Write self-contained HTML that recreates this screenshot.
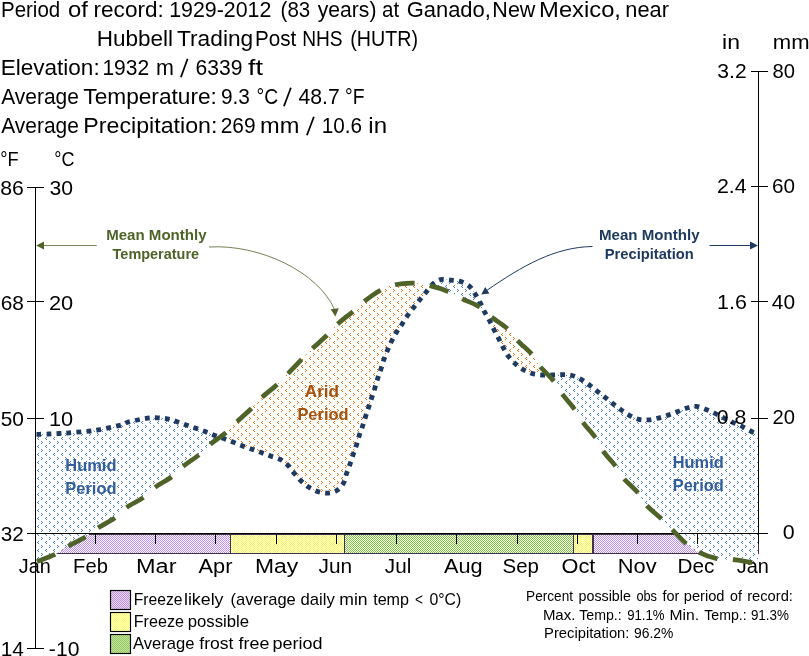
<!DOCTYPE html>
<html><head><meta charset="utf-8"><style>
html,body{margin:0;padding:0;background:#fff;width:809px;height:656px;overflow:hidden;font-family:"Liberation Sans", sans-serif;}
svg text{-webkit-font-smoothing:antialiased;}
svg{will-change:transform;}
</style></head><body>
<svg width="809" height="656" viewBox="0 0 809 656" style="position:absolute;left:0;top:0">
<defs>
<pattern id="pBlue" patternUnits="userSpaceOnUse" x="0" y="0" width="8" height="8" shape-rendering="crispEdges">
<rect width="8" height="8" fill="#fff"/>
<g fill="#4A7CC0"><rect x="1" y="1" width="1" height="1"/><rect x="2" y="2" width="1" height="1"/><rect x="1" y="3" width="1" height="1"/>
<rect x="6" y="5" width="1" height="1"/><rect x="5" y="6" width="1" height="1"/><rect x="6" y="7" width="1" height="1"/></g>
</pattern>
<pattern id="pOrange" patternUnits="userSpaceOnUse" x="0" y="0" width="8" height="8" shape-rendering="crispEdges">
<rect width="8" height="8" fill="#fff"/>
<g fill="#E46C0A"><rect x="1" y="1" width="1" height="1"/><rect x="2" y="2" width="1" height="1"/><rect x="1" y="3" width="1" height="1"/>
<rect x="6" y="5" width="1" height="1"/><rect x="5" y="6" width="1" height="1"/><rect x="6" y="7" width="1" height="1"/></g>
</pattern>
<pattern id="cPurple" patternUnits="userSpaceOnUse" x="0" y="0" width="2" height="2" shape-rendering="crispEdges">
<rect width="2" height="2" fill="#fff"/><rect x="0" y="0" width="1" height="1" fill="#BE8CFA"/><rect x="1" y="1" width="1" height="1" fill="#BE8CFA"/></pattern>
<pattern id="cYellow" patternUnits="userSpaceOnUse" x="0" y="0" width="2" height="2" shape-rendering="crispEdges">
<rect width="2" height="2" fill="#fff"/><rect x="0" y="0" width="1" height="1" fill="#FFFF3C"/><rect x="1" y="1" width="1" height="1" fill="#FFFF3C"/></pattern>
<pattern id="cGreen" patternUnits="userSpaceOnUse" x="0" y="0" width="2" height="2" shape-rendering="crispEdges">
<rect width="2" height="2" fill="#fff"/><rect x="0" y="0" width="1" height="1" fill="#7EC83A"/><rect x="1" y="1" width="1" height="1" fill="#7EC83A"/></pattern>
<pattern id="lPurple" patternUnits="userSpaceOnUse" x="0" y="0" width="2" height="2" shape-rendering="crispEdges">
<rect width="2" height="2" fill="#E6DCCB"/><rect x="0" y="0" width="1" height="1" fill="#C28CFA"/><rect x="1" y="1" width="1" height="1" fill="#C28CFA"/></pattern>
<pattern id="lYellow" patternUnits="userSpaceOnUse" x="0" y="0" width="2" height="2" shape-rendering="crispEdges">
<rect width="2" height="2" fill="#FFFFD0"/><rect x="0" y="0" width="1" height="1" fill="#FFFF60"/><rect x="1" y="1" width="1" height="1" fill="#FFFF60"/></pattern>
<pattern id="lGreen" patternUnits="userSpaceOnUse" x="0" y="0" width="2" height="2" shape-rendering="crispEdges">
<rect width="2" height="2" fill="#C8E0A8"/><rect x="0" y="0" width="1" height="1" fill="#92CC58"/><rect x="1" y="1" width="1" height="1" fill="#92CC58"/></pattern>
<clipPath id="cAboveT"><polygon points="36.00,0.00 35.00,562.20 35.04,562.19 35.01,562.22 34.94,562.26 34.87,562.31 34.86,562.33 34.93,562.32 35.12,562.26 35.49,562.13 36.07,561.92 36.90,561.60 38.04,561.17 39.46,560.65 41.12,560.04 42.96,559.37 44.91,558.64 46.92,557.87 48.94,557.08 50.89,556.28 52.73,555.48 54.40,554.70 55.91,553.92 57.33,553.13 58.69,552.31 60.00,551.48 61.29,550.64 62.58,549.78 63.88,548.92 65.22,548.05 66.62,547.18 68.10,546.30 69.67,545.42 71.32,544.53 73.03,543.62 74.78,542.72 76.55,541.80 78.31,540.88 80.05,539.96 81.74,539.04 83.36,538.12 84.90,537.20 86.33,536.29 87.67,535.38 88.93,534.47 90.15,533.56 91.35,532.65 92.55,531.74 93.77,530.81 95.03,529.89 96.37,528.95 97.80,528.00 99.34,527.04 100.98,526.08 102.69,525.11 104.45,524.14 106.22,523.16 108.00,522.17 109.75,521.17 111.45,520.16 113.08,519.13 114.60,518.10 116.01,517.04 117.32,515.96 118.57,514.85 119.76,513.74 120.92,512.61 122.08,511.49 123.25,510.38 124.46,509.29 125.74,508.23 127.10,507.20 128.55,506.21 130.08,505.27 131.66,504.35 133.28,503.45 134.92,502.56 136.56,501.67 138.19,500.77 139.78,499.85 141.32,498.90 142.80,497.90 144.20,496.85 145.54,495.77 146.84,494.65 148.10,493.50 149.35,492.35 150.59,491.20 151.85,490.05 153.12,488.93 154.44,487.85 155.80,486.80 157.22,485.81 158.69,484.86 160.19,483.95 161.72,483.06 163.26,482.18 164.79,481.29 166.32,480.40 167.82,479.47 169.28,478.51 170.70,477.50 172.06,476.44 173.38,475.33 174.65,474.19 175.91,473.02 177.15,471.84 178.39,470.66 179.65,469.47 180.92,468.29 182.24,467.13 183.60,466.00 185.02,464.89 186.50,463.80 188.01,462.72 189.56,461.64 191.11,460.57 192.65,459.51 194.18,458.44 195.67,457.37 197.12,456.29 198.50,455.20 199.80,454.10 201.04,453.00 202.22,451.89 203.37,450.78 204.50,449.67 205.63,448.55 206.78,447.44 207.96,446.32 209.20,445.21 210.50,444.10 211.89,442.99 213.34,441.89 214.85,440.78 216.40,439.68 217.96,438.58 219.52,437.47 221.07,436.36 222.57,435.25 224.02,434.13 225.40,433.00 226.70,431.87 227.93,430.74 229.11,429.61 230.25,428.48 231.37,427.34 232.49,426.19 233.62,425.04 234.77,423.87 235.96,422.69 237.20,421.50 238.50,420.29 239.86,419.05 241.24,417.80 242.65,416.54 244.07,415.28 245.49,414.00 246.90,412.74 248.28,411.48 249.61,410.23 250.90,409.00 252.12,407.79 253.28,406.59 254.39,405.40 255.48,404.21 256.56,403.03 257.63,401.85 258.73,400.67 259.86,399.49 261.05,398.30 262.30,397.10 263.63,395.89 265.04,394.66 266.51,393.42 268.01,392.18 269.53,390.94 271.04,389.71 272.54,388.48 273.99,387.27 275.38,386.07 276.70,384.90 277.93,383.76 279.08,382.67 280.17,381.61 281.22,380.56 282.26,379.51 283.28,378.46 284.32,377.38 285.39,376.27 286.51,375.12 287.70,373.90 288.96,372.61 290.27,371.25 291.63,369.84 293.02,368.40 294.42,366.94 295.82,365.47 297.22,364.02 298.59,362.59 299.92,361.22 301.20,359.90 302.42,358.65 303.59,357.44 304.73,356.27 305.84,355.13 306.94,354.01 308.04,352.89 309.15,351.77 310.29,350.64 311.47,349.49 312.70,348.30 313.99,347.08 315.34,345.85 316.72,344.60 318.13,343.34 319.56,342.07 320.98,340.80 322.39,339.53 323.77,338.28 325.11,337.03 326.40,335.80 327.62,334.59 328.77,333.39 329.88,332.20 330.96,331.01 332.02,329.83 333.10,328.65 334.20,327.47 335.33,326.29 336.53,325.10 337.80,323.90 339.17,322.68 340.62,321.44 342.14,320.18 343.70,318.92 345.28,317.66 346.86,316.41 348.41,315.19 349.92,313.98 351.36,312.82 352.70,311.70 353.93,310.64 355.05,309.62 356.10,308.65 357.10,307.71 358.08,306.79 359.06,305.87 360.08,304.94 361.16,304.00 362.32,303.02 363.60,302.00 365.00,300.92 366.49,299.77 368.05,298.59 369.67,297.38 371.33,296.17 373.01,294.98 374.70,293.83 376.37,292.73 378.01,291.72 379.60,290.80 381.14,289.97 382.64,289.20 384.11,288.48 385.57,287.82 387.04,287.21 388.51,286.64 390.02,286.12 391.56,285.64 393.15,285.20 394.80,284.80 396.53,284.44 398.34,284.12 400.20,283.84 402.11,283.61 404.03,283.42 405.96,283.27 407.88,283.17 409.77,283.10 411.62,283.08 413.40,283.10 415.12,283.17 416.78,283.28 418.41,283.44 420.01,283.65 421.60,283.89 423.18,284.18 424.77,284.49 426.38,284.83 428.02,285.21 429.70,285.60 431.43,286.03 433.21,286.49 435.02,286.99 436.86,287.52 438.69,288.07 440.52,288.66 442.33,289.27 444.11,289.90 445.83,290.54 447.50,291.20 449.09,291.89 450.63,292.61 452.11,293.36 453.56,294.14 454.99,294.93 456.41,295.73 457.84,296.54 459.29,297.34 460.77,298.13 462.30,298.90 463.89,299.64 465.53,300.36 467.20,301.05 468.90,301.75 470.60,302.44 472.29,303.16 473.96,303.90 475.60,304.68 477.18,305.51 478.70,306.40 480.14,307.36 481.51,308.38 482.83,309.44 484.11,310.55 485.37,311.68 486.63,312.83 487.89,313.99 489.18,315.14 490.51,316.28 491.90,317.40 493.36,318.49 494.89,319.58 496.46,320.66 498.07,321.74 499.68,322.82 501.27,323.91 502.83,325.01 504.34,326.12 505.77,327.25 507.10,328.40 508.32,329.57 509.43,330.74 510.46,331.93 511.43,333.14 512.37,334.35 513.30,335.58 514.26,336.81 515.26,338.06 516.33,339.33 517.50,340.60 518.78,341.89 520.17,343.21 521.62,344.55 523.13,345.90 524.65,347.26 526.16,348.63 527.64,349.99 529.06,351.34 530.39,352.68 531.60,354.00 532.68,355.30 533.64,356.58 534.50,357.86 535.31,359.12 536.08,360.38 536.85,361.64 537.63,362.91 538.47,364.19 539.38,365.49 540.40,366.80 541.53,368.13 542.76,369.48 544.06,370.84 545.41,372.22 546.78,373.59 548.15,374.98 549.51,376.36 550.81,377.75 552.05,379.13 553.20,380.50 554.25,381.87 555.21,383.23 556.11,384.58 556.97,385.94 557.81,387.29 558.64,388.66 559.48,390.02 560.36,391.40 561.29,392.79 562.30,394.20 563.39,395.62 564.54,397.06 565.74,398.52 566.97,399.98 568.22,401.45 569.48,402.92 570.72,404.40 571.93,405.87 573.09,407.34 574.20,408.80 575.23,410.25 576.21,411.70 577.14,413.14 578.03,414.58 578.92,416.02 579.81,417.46 580.71,418.91 581.65,420.36 582.64,421.83 583.70,423.30 584.85,424.80 586.08,426.32 587.38,427.87 588.72,429.43 590.07,430.98 591.40,432.53 592.70,434.05 593.93,435.54 595.07,437.00 596.10,438.40 596.98,439.74 597.73,441.01 598.38,442.24 598.95,443.43 599.50,444.61 600.05,445.78 600.62,446.97 601.27,448.20 602.02,449.47 602.90,450.80 603.93,452.21 605.09,453.68 606.34,455.19 607.66,456.74 609.01,458.30 610.37,459.86 611.71,461.41 613.00,462.92 614.20,464.39 615.30,465.80 616.27,467.14 617.12,468.43 617.90,469.67 618.62,470.88 619.32,472.08 620.03,473.27 620.77,474.47 621.58,475.68 622.48,476.92 623.50,478.20 624.67,479.52 625.95,480.86 627.33,482.21 628.78,483.59 630.26,484.97 631.75,486.36 633.22,487.75 634.63,489.14 635.97,490.52 637.20,491.90 638.31,493.28 639.32,494.66 640.25,496.05 641.14,497.44 642.00,498.83 642.86,500.21 643.75,501.59 644.68,502.94 645.69,504.28 646.80,505.60 648.02,506.90 649.32,508.19 650.69,509.46 652.11,510.73 653.56,511.98 655.02,513.21 656.46,514.43 657.87,515.64 659.22,516.83 660.50,518.00 661.69,519.13 662.81,520.21 663.87,521.25 664.90,522.27 665.91,523.28 666.93,524.31 667.98,525.37 669.08,526.48 670.25,527.65 671.50,528.90 672.86,530.27 674.30,531.76 675.82,533.34 677.38,534.96 678.97,536.61 680.56,538.25 682.15,539.84 683.69,541.35 685.18,542.75 686.60,544.00 687.92,545.11 689.15,546.13 690.32,547.05 691.45,547.91 692.58,548.70 693.71,549.45 694.89,550.17 696.13,550.88 697.46,551.58 698.90,552.30 700.47,553.03 702.15,553.77 703.91,554.50 705.73,555.21 707.59,555.90 709.48,556.55 711.36,557.16 713.23,557.70 715.05,558.19 716.80,558.60 718.49,558.91 720.13,559.13 721.74,559.26 723.33,559.34 724.92,559.38 726.51,559.39 728.12,559.42 729.76,559.46 731.45,559.55 733.20,559.70 735.07,559.92 737.08,560.18 739.18,560.47 741.33,560.78 743.48,561.11 745.56,561.42 747.55,561.72 749.39,561.99 751.02,562.22 752.40,562.40 753.54,562.52 754.48,562.60 755.26,562.65 755.89,562.67 756.40,562.67 756.82,562.65 757.16,562.63 757.46,562.61 757.73,562.60 758.00,562.60 758.00,562.60 758.00,0.00"/></clipPath>
<clipPath id="cBelowT"><polygon points="36.00,700.00 35.00,562.20 35.04,562.19 35.01,562.22 34.94,562.26 34.87,562.31 34.86,562.33 34.93,562.32 35.12,562.26 35.49,562.13 36.07,561.92 36.90,561.60 38.04,561.17 39.46,560.65 41.12,560.04 42.96,559.37 44.91,558.64 46.92,557.87 48.94,557.08 50.89,556.28 52.73,555.48 54.40,554.70 55.91,553.92 57.33,553.13 58.69,552.31 60.00,551.48 61.29,550.64 62.58,549.78 63.88,548.92 65.22,548.05 66.62,547.18 68.10,546.30 69.67,545.42 71.32,544.53 73.03,543.62 74.78,542.72 76.55,541.80 78.31,540.88 80.05,539.96 81.74,539.04 83.36,538.12 84.90,537.20 86.33,536.29 87.67,535.38 88.93,534.47 90.15,533.56 91.35,532.65 92.55,531.74 93.77,530.81 95.03,529.89 96.37,528.95 97.80,528.00 99.34,527.04 100.98,526.08 102.69,525.11 104.45,524.14 106.22,523.16 108.00,522.17 109.75,521.17 111.45,520.16 113.08,519.13 114.60,518.10 116.01,517.04 117.32,515.96 118.57,514.85 119.76,513.74 120.92,512.61 122.08,511.49 123.25,510.38 124.46,509.29 125.74,508.23 127.10,507.20 128.55,506.21 130.08,505.27 131.66,504.35 133.28,503.45 134.92,502.56 136.56,501.67 138.19,500.77 139.78,499.85 141.32,498.90 142.80,497.90 144.20,496.85 145.54,495.77 146.84,494.65 148.10,493.50 149.35,492.35 150.59,491.20 151.85,490.05 153.12,488.93 154.44,487.85 155.80,486.80 157.22,485.81 158.69,484.86 160.19,483.95 161.72,483.06 163.26,482.18 164.79,481.29 166.32,480.40 167.82,479.47 169.28,478.51 170.70,477.50 172.06,476.44 173.38,475.33 174.65,474.19 175.91,473.02 177.15,471.84 178.39,470.66 179.65,469.47 180.92,468.29 182.24,467.13 183.60,466.00 185.02,464.89 186.50,463.80 188.01,462.72 189.56,461.64 191.11,460.57 192.65,459.51 194.18,458.44 195.67,457.37 197.12,456.29 198.50,455.20 199.80,454.10 201.04,453.00 202.22,451.89 203.37,450.78 204.50,449.67 205.63,448.55 206.78,447.44 207.96,446.32 209.20,445.21 210.50,444.10 211.89,442.99 213.34,441.89 214.85,440.78 216.40,439.68 217.96,438.58 219.52,437.47 221.07,436.36 222.57,435.25 224.02,434.13 225.40,433.00 226.70,431.87 227.93,430.74 229.11,429.61 230.25,428.48 231.37,427.34 232.49,426.19 233.62,425.04 234.77,423.87 235.96,422.69 237.20,421.50 238.50,420.29 239.86,419.05 241.24,417.80 242.65,416.54 244.07,415.28 245.49,414.00 246.90,412.74 248.28,411.48 249.61,410.23 250.90,409.00 252.12,407.79 253.28,406.59 254.39,405.40 255.48,404.21 256.56,403.03 257.63,401.85 258.73,400.67 259.86,399.49 261.05,398.30 262.30,397.10 263.63,395.89 265.04,394.66 266.51,393.42 268.01,392.18 269.53,390.94 271.04,389.71 272.54,388.48 273.99,387.27 275.38,386.07 276.70,384.90 277.93,383.76 279.08,382.67 280.17,381.61 281.22,380.56 282.26,379.51 283.28,378.46 284.32,377.38 285.39,376.27 286.51,375.12 287.70,373.90 288.96,372.61 290.27,371.25 291.63,369.84 293.02,368.40 294.42,366.94 295.82,365.47 297.22,364.02 298.59,362.59 299.92,361.22 301.20,359.90 302.42,358.65 303.59,357.44 304.73,356.27 305.84,355.13 306.94,354.01 308.04,352.89 309.15,351.77 310.29,350.64 311.47,349.49 312.70,348.30 313.99,347.08 315.34,345.85 316.72,344.60 318.13,343.34 319.56,342.07 320.98,340.80 322.39,339.53 323.77,338.28 325.11,337.03 326.40,335.80 327.62,334.59 328.77,333.39 329.88,332.20 330.96,331.01 332.02,329.83 333.10,328.65 334.20,327.47 335.33,326.29 336.53,325.10 337.80,323.90 339.17,322.68 340.62,321.44 342.14,320.18 343.70,318.92 345.28,317.66 346.86,316.41 348.41,315.19 349.92,313.98 351.36,312.82 352.70,311.70 353.93,310.64 355.05,309.62 356.10,308.65 357.10,307.71 358.08,306.79 359.06,305.87 360.08,304.94 361.16,304.00 362.32,303.02 363.60,302.00 365.00,300.92 366.49,299.77 368.05,298.59 369.67,297.38 371.33,296.17 373.01,294.98 374.70,293.83 376.37,292.73 378.01,291.72 379.60,290.80 381.14,289.97 382.64,289.20 384.11,288.48 385.57,287.82 387.04,287.21 388.51,286.64 390.02,286.12 391.56,285.64 393.15,285.20 394.80,284.80 396.53,284.44 398.34,284.12 400.20,283.84 402.11,283.61 404.03,283.42 405.96,283.27 407.88,283.17 409.77,283.10 411.62,283.08 413.40,283.10 415.12,283.17 416.78,283.28 418.41,283.44 420.01,283.65 421.60,283.89 423.18,284.18 424.77,284.49 426.38,284.83 428.02,285.21 429.70,285.60 431.43,286.03 433.21,286.49 435.02,286.99 436.86,287.52 438.69,288.07 440.52,288.66 442.33,289.27 444.11,289.90 445.83,290.54 447.50,291.20 449.09,291.89 450.63,292.61 452.11,293.36 453.56,294.14 454.99,294.93 456.41,295.73 457.84,296.54 459.29,297.34 460.77,298.13 462.30,298.90 463.89,299.64 465.53,300.36 467.20,301.05 468.90,301.75 470.60,302.44 472.29,303.16 473.96,303.90 475.60,304.68 477.18,305.51 478.70,306.40 480.14,307.36 481.51,308.38 482.83,309.44 484.11,310.55 485.37,311.68 486.63,312.83 487.89,313.99 489.18,315.14 490.51,316.28 491.90,317.40 493.36,318.49 494.89,319.58 496.46,320.66 498.07,321.74 499.68,322.82 501.27,323.91 502.83,325.01 504.34,326.12 505.77,327.25 507.10,328.40 508.32,329.57 509.43,330.74 510.46,331.93 511.43,333.14 512.37,334.35 513.30,335.58 514.26,336.81 515.26,338.06 516.33,339.33 517.50,340.60 518.78,341.89 520.17,343.21 521.62,344.55 523.13,345.90 524.65,347.26 526.16,348.63 527.64,349.99 529.06,351.34 530.39,352.68 531.60,354.00 532.68,355.30 533.64,356.58 534.50,357.86 535.31,359.12 536.08,360.38 536.85,361.64 537.63,362.91 538.47,364.19 539.38,365.49 540.40,366.80 541.53,368.13 542.76,369.48 544.06,370.84 545.41,372.22 546.78,373.59 548.15,374.98 549.51,376.36 550.81,377.75 552.05,379.13 553.20,380.50 554.25,381.87 555.21,383.23 556.11,384.58 556.97,385.94 557.81,387.29 558.64,388.66 559.48,390.02 560.36,391.40 561.29,392.79 562.30,394.20 563.39,395.62 564.54,397.06 565.74,398.52 566.97,399.98 568.22,401.45 569.48,402.92 570.72,404.40 571.93,405.87 573.09,407.34 574.20,408.80 575.23,410.25 576.21,411.70 577.14,413.14 578.03,414.58 578.92,416.02 579.81,417.46 580.71,418.91 581.65,420.36 582.64,421.83 583.70,423.30 584.85,424.80 586.08,426.32 587.38,427.87 588.72,429.43 590.07,430.98 591.40,432.53 592.70,434.05 593.93,435.54 595.07,437.00 596.10,438.40 596.98,439.74 597.73,441.01 598.38,442.24 598.95,443.43 599.50,444.61 600.05,445.78 600.62,446.97 601.27,448.20 602.02,449.47 602.90,450.80 603.93,452.21 605.09,453.68 606.34,455.19 607.66,456.74 609.01,458.30 610.37,459.86 611.71,461.41 613.00,462.92 614.20,464.39 615.30,465.80 616.27,467.14 617.12,468.43 617.90,469.67 618.62,470.88 619.32,472.08 620.03,473.27 620.77,474.47 621.58,475.68 622.48,476.92 623.50,478.20 624.67,479.52 625.95,480.86 627.33,482.21 628.78,483.59 630.26,484.97 631.75,486.36 633.22,487.75 634.63,489.14 635.97,490.52 637.20,491.90 638.31,493.28 639.32,494.66 640.25,496.05 641.14,497.44 642.00,498.83 642.86,500.21 643.75,501.59 644.68,502.94 645.69,504.28 646.80,505.60 648.02,506.90 649.32,508.19 650.69,509.46 652.11,510.73 653.56,511.98 655.02,513.21 656.46,514.43 657.87,515.64 659.22,516.83 660.50,518.00 661.69,519.13 662.81,520.21 663.87,521.25 664.90,522.27 665.91,523.28 666.93,524.31 667.98,525.37 669.08,526.48 670.25,527.65 671.50,528.90 672.86,530.27 674.30,531.76 675.82,533.34 677.38,534.96 678.97,536.61 680.56,538.25 682.15,539.84 683.69,541.35 685.18,542.75 686.60,544.00 687.92,545.11 689.15,546.13 690.32,547.05 691.45,547.91 692.58,548.70 693.71,549.45 694.89,550.17 696.13,550.88 697.46,551.58 698.90,552.30 700.47,553.03 702.15,553.77 703.91,554.50 705.73,555.21 707.59,555.90 709.48,556.55 711.36,557.16 713.23,557.70 715.05,558.19 716.80,558.60 718.49,558.91 720.13,559.13 721.74,559.26 723.33,559.34 724.92,559.38 726.51,559.39 728.12,559.42 729.76,559.46 731.45,559.55 733.20,559.70 735.07,559.92 737.08,560.18 739.18,560.47 741.33,560.78 743.48,561.11 745.56,561.42 747.55,561.72 749.39,561.99 751.02,562.22 752.40,562.40 753.54,562.52 754.48,562.60 755.26,562.65 755.89,562.67 756.40,562.67 756.82,562.65 757.16,562.63 757.46,562.61 757.73,562.60 758.00,562.60 758.00,562.60 758.00,700.00"/></clipPath>
<marker id="arrO" viewBox="0 0 10 10" refX="9" refY="5" markerWidth="4" markerHeight="4" orient="auto-start-reverse" markerUnits="strokeWidth"></marker>
</defs>
<rect width="809" height="656" fill="#fff"/>
<rect x="35.5" y="534.5" width="195.0" height="19.0" fill="url(#cPurple)" stroke="#3F3151" stroke-width="1"/>
<rect x="230.5" y="534.5" width="114.0" height="19.0" fill="url(#cYellow)" stroke="#3F3151" stroke-width="1"/>
<rect x="344.5" y="534.5" width="229.0" height="19.0" fill="url(#cGreen)" stroke="#3F3151" stroke-width="1"/>
<rect x="573.5" y="534.5" width="19.0" height="19.0" fill="url(#cYellow)" stroke="#3F3151" stroke-width="1"/>
<rect x="593.5" y="534.5" width="165.0" height="19.0" fill="url(#cPurple)" stroke="#3F3151" stroke-width="1"/>
<polygon points="36.00,700.00 36.00,434.30 36.15,434.30 36.30,434.30 36.46,434.31 36.65,434.31 36.88,434.32 37.15,434.32 37.49,434.32 37.90,434.32 38.40,434.31 39.00,434.30 39.72,434.28 40.55,434.26 41.49,434.24 42.50,434.21 43.56,434.18 44.66,434.15 45.78,434.11 46.89,434.08 47.97,434.04 49.00,434.00 50.00,433.96 51.00,433.92 52.00,433.87 53.00,433.82 54.00,433.77 55.00,433.72 56.00,433.67 57.00,433.62 58.00,433.56 59.00,433.50 59.93,433.45 60.74,433.40 61.50,433.36 62.23,433.32 63.00,433.27 63.85,433.22 64.82,433.15 65.98,433.06 67.35,432.94 69.00,432.80 70.96,432.63 73.19,432.46 75.66,432.26 78.30,432.05 81.06,431.82 83.90,431.57 86.77,431.29 89.61,430.99 92.37,430.66 95.00,430.30 97.62,429.89 100.34,429.43 103.12,428.92 105.90,428.38 108.64,427.83 111.29,427.28 113.80,426.73 116.12,426.21 118.21,425.73 120.00,425.30 121.46,424.92 122.61,424.56 123.52,424.23 124.22,423.92 124.80,423.63 125.30,423.35 125.78,423.09 126.30,422.82 126.92,422.56 127.70,422.30 128.59,422.04 129.52,421.79 130.48,421.54 131.46,421.31 132.46,421.08 133.47,420.85 134.49,420.63 135.50,420.42 136.51,420.21 137.50,420.00 138.49,419.79 139.47,419.59 140.46,419.38 141.45,419.18 142.44,418.98 143.43,418.80 144.42,418.62 145.41,418.46 146.41,418.32 147.40,418.20 148.40,418.10 149.40,418.01 150.40,417.93 151.40,417.87 152.41,417.82 153.41,417.79 154.41,417.77 155.41,417.77 156.41,417.78 157.40,417.80 158.39,417.84 159.38,417.88 160.37,417.94 161.36,418.02 162.35,418.11 163.33,418.21 164.31,418.33 165.28,418.47 166.25,418.62 167.20,418.80 168.14,419.00 169.07,419.22 169.99,419.46 170.90,419.72 171.81,420.00 172.72,420.29 173.63,420.59 174.54,420.89 175.47,421.19 176.40,421.50 177.34,421.81 178.29,422.14 179.25,422.47 180.21,422.81 181.17,423.16 182.13,423.51 183.10,423.87 184.07,424.22 185.03,424.56 186.00,424.90 186.97,425.23 187.94,425.56 188.91,425.89 189.88,426.22 190.85,426.55 191.82,426.88 192.79,427.21 193.76,427.54 194.73,427.87 195.70,428.20 196.67,428.54 197.64,428.87 198.61,429.21 199.58,429.54 200.55,429.88 201.52,430.22 202.47,430.56 203.43,430.91 204.37,431.25 205.30,431.60 206.21,431.95 207.11,432.31 208.00,432.67 208.87,433.04 209.74,433.40 210.62,433.76 211.49,434.13 212.38,434.49 213.28,434.85 214.20,435.20 215.14,435.55 216.09,435.89 217.05,436.23 218.03,436.56 219.01,436.89 219.99,437.23 220.97,437.56 221.95,437.90 222.93,438.25 223.90,438.60 224.87,438.96 225.83,439.32 226.80,439.69 227.77,440.06 228.74,440.43 229.70,440.81 230.66,441.18 231.61,441.56 232.56,441.93 233.50,442.30 234.43,442.67 235.35,443.05 236.26,443.43 237.16,443.80 238.06,444.18 238.96,444.56 239.86,444.93 240.77,445.29 241.68,445.65 242.60,446.00 243.53,446.34 244.46,446.67 245.40,446.99 246.35,447.31 247.29,447.62 248.24,447.93 249.19,448.24 250.13,448.56 251.07,448.87 252.00,449.20 252.93,449.53 253.85,449.87 254.77,450.21 255.69,450.55 256.61,450.89 257.53,451.23 258.45,451.57 259.36,451.92 260.28,452.26 261.20,452.60 262.12,452.94 263.03,453.28 263.94,453.62 264.86,453.96 265.77,454.31 266.68,454.65 267.60,454.99 268.53,455.33 269.46,455.66 270.40,456.00 271.36,456.32 272.34,456.62 273.33,456.91 274.34,457.20 275.34,457.49 276.33,457.79 277.31,458.11 278.27,458.47 279.20,458.86 280.10,459.30 280.96,459.78 281.81,460.30 282.63,460.84 283.43,461.42 284.22,462.02 284.99,462.64 285.74,463.28 286.47,463.94 287.19,464.61 287.90,465.30 288.58,466.01 289.23,466.75 289.86,467.51 290.47,468.30 291.06,469.09 291.65,469.90 292.25,470.71 292.85,471.52 293.46,472.32 294.10,473.10 294.75,473.88 295.41,474.67 296.07,475.46 296.73,476.25 297.41,477.04 298.09,477.83 298.77,478.60 299.47,479.35 300.18,480.09 300.90,480.80 301.63,481.50 302.36,482.18 303.11,482.85 303.86,483.51 304.62,484.16 305.39,484.78 306.17,485.39 306.97,485.98 307.78,486.55 308.60,487.10 309.44,487.63 310.29,488.15 311.16,488.65 312.04,489.13 312.93,489.59 313.82,490.03 314.73,490.45 315.65,490.83 316.57,491.18 317.50,491.50 318.44,491.79 319.39,492.07 320.35,492.32 321.33,492.54 322.31,492.74 323.29,492.90 324.27,493.02 325.25,493.09 326.23,493.12 327.20,493.10 328.18,493.03 329.17,492.93 330.18,492.78 331.19,492.59 332.19,492.36 333.17,492.09 334.14,491.77 335.07,491.39 335.96,490.97 336.80,490.50 337.60,489.96 338.38,489.36 339.14,488.70 339.87,487.98 340.56,487.23 341.23,486.43 341.85,485.62 342.44,484.78 342.99,483.94 343.50,483.10 343.95,482.24 344.33,481.35 344.65,480.44 344.94,479.50 345.19,478.55 345.43,477.58 345.67,476.61 345.92,475.64 346.19,474.67 346.50,473.70 346.84,472.74 347.19,471.77 347.55,470.79 347.92,469.81 348.29,468.82 348.66,467.84 349.03,466.85 349.40,465.87 349.75,464.88 350.10,463.90 350.44,462.92 350.77,461.93 351.09,460.94 351.41,459.95 351.73,458.96 352.04,457.98 352.35,457.00 352.67,456.02 352.98,455.06 353.30,454.10 353.62,453.16 353.94,452.23 354.27,451.31 354.59,450.41 354.92,449.50 355.24,448.59 355.56,447.69 355.88,446.77 356.19,445.84 356.50,444.90 356.80,443.94 357.09,442.97 357.38,441.98 357.67,440.98 357.95,439.99 358.23,438.99 358.52,438.00 358.81,437.02 359.10,436.05 359.40,435.10 359.71,434.17 360.03,433.25 360.35,432.35 360.67,431.46 361.00,430.57 361.33,429.68 361.65,428.80 361.97,427.91 362.29,427.01 362.60,426.10 362.90,425.18 363.19,424.27 363.48,423.34 363.77,422.42 364.05,421.49 364.33,420.56 364.62,419.63 364.91,418.69 365.20,417.75 365.50,416.80 365.81,415.84 366.13,414.88 366.45,413.90 366.77,412.92 367.10,411.94 367.43,410.96 367.75,409.98 368.07,409.01 368.39,408.05 368.70,407.10 369.00,406.17 369.29,405.25 369.58,404.34 369.87,403.45 370.15,402.55 370.43,401.65 370.72,400.76 371.01,399.85 371.30,398.93 371.60,398.00 371.91,397.05 372.23,396.10 372.55,395.14 372.87,394.17 373.20,393.19 373.53,392.22 373.85,391.24 374.17,390.26 374.49,389.28 374.80,388.30 375.10,387.32 375.39,386.34 375.68,385.35 375.97,384.36 376.25,383.37 376.53,382.38 376.82,381.40 377.11,380.42 377.40,379.46 377.70,378.50 378.01,377.56 378.33,376.63 378.65,375.71 378.97,374.79 379.30,373.88 379.63,372.97 379.95,372.06 380.27,371.15 380.59,370.23 380.90,369.30 381.20,368.36 381.49,367.42 381.77,366.47 382.05,365.51 382.32,364.56 382.60,363.60 382.89,362.64 383.18,361.69 383.48,360.74 383.80,359.80 384.13,358.86 384.47,357.93 384.81,357.00 385.16,356.07 385.52,355.14 385.88,354.21 386.25,353.28 386.63,352.36 387.01,351.43 387.40,350.50 387.79,349.57 388.19,348.64 388.59,347.70 389.00,346.77 389.42,345.83 389.84,344.90 390.27,343.97 390.71,343.04 391.15,342.12 391.60,341.20 392.06,340.28 392.53,339.36 393.00,338.45 393.48,337.53 393.97,336.62 394.46,335.71 394.96,334.82 395.47,333.93 395.98,333.06 396.50,332.20 397.03,331.36 397.56,330.54 398.11,329.74 398.66,328.95 399.22,328.17 399.78,327.39 400.34,326.61 400.90,325.82 401.45,325.02 402.00,324.20 402.54,323.37 403.08,322.52 403.61,321.67 404.14,320.81 404.67,319.94 405.20,319.08 405.74,318.22 406.28,317.37 406.84,316.53 407.40,315.70 407.97,314.89 408.56,314.08 409.14,313.29 409.74,312.51 410.34,311.73 410.94,310.95 411.55,310.17 412.16,309.38 412.78,308.60 413.40,307.80 414.02,306.99 414.66,306.18 415.30,305.36 415.94,304.54 416.59,303.72 417.24,302.90 417.88,302.08 418.53,301.28 419.17,300.48 419.80,299.70 420.43,298.94 421.04,298.19 421.66,297.45 422.27,296.73 422.88,296.01 423.49,295.28 424.11,294.56 424.73,293.82 425.36,293.07 426.00,292.30 426.64,291.50 427.29,290.65 427.93,289.78 428.58,288.90 429.23,288.02 429.90,287.15 430.57,286.31 431.26,285.52 431.97,284.77 432.70,284.10 433.44,283.48 434.20,282.88 434.96,282.32 435.74,281.79 436.54,281.31 437.35,280.86 438.18,280.47 439.03,280.12 439.90,279.83 440.80,279.60 441.73,279.44 442.69,279.36 443.69,279.35 444.70,279.39 445.73,279.48 446.77,279.59 447.81,279.72 448.85,279.86 449.89,279.99 450.90,280.10 451.91,280.19 452.92,280.28 453.94,280.37 454.96,280.46 455.97,280.57 456.98,280.70 457.98,280.86 458.97,281.06 459.94,281.30 460.90,281.60 461.85,281.94 462.80,282.32 463.75,282.74 464.68,283.19 465.61,283.68 466.51,284.19 467.39,284.75 468.23,285.33 469.04,285.95 469.80,286.60 470.52,287.30 471.19,288.05 471.82,288.84 472.42,289.67 473.00,290.53 473.56,291.41 474.10,292.29 474.63,293.17 475.16,294.05 475.70,294.90 476.23,295.74 476.75,296.57 477.26,297.41 477.76,298.25 478.24,299.09 478.72,299.93 479.20,300.78 479.67,301.65 480.13,302.52 480.60,303.40 481.06,304.30 481.51,305.22 481.94,306.16 482.38,307.10 482.81,308.05 483.24,309.00 483.67,309.94 484.10,310.88 484.55,311.80 485.00,312.70 485.47,313.58 485.94,314.44 486.42,315.30 486.91,316.14 487.40,316.97 487.89,317.81 488.38,318.65 488.86,319.49 489.33,320.34 489.80,321.20 490.26,322.07 490.70,322.96 491.14,323.85 491.58,324.74 492.01,325.64 492.44,326.54 492.88,327.43 493.31,328.33 493.75,329.22 494.20,330.10 494.65,330.98 495.11,331.85 495.57,332.71 496.03,333.58 496.49,334.44 496.95,335.30 497.41,336.17 497.88,337.04 498.34,337.91 498.80,338.80 499.26,339.70 499.71,340.61 500.17,341.52 500.62,342.44 501.08,343.37 501.53,344.29 501.99,345.21 502.45,346.12 502.92,347.02 503.40,347.90 503.88,348.77 504.34,349.64 504.81,350.50 505.28,351.36 505.76,352.21 506.24,353.05 506.75,353.88 507.27,354.70 507.82,355.50 508.40,356.30 509.01,357.09 509.65,357.87 510.31,358.64 510.98,359.41 511.68,360.16 512.39,360.90 513.11,361.63 513.84,362.34 514.57,363.03 515.30,363.70 516.03,364.35 516.77,364.99 517.51,365.61 518.26,366.22 519.01,366.81 519.78,367.39 520.56,367.94 521.36,368.48 522.17,369.00 523.00,369.50 523.85,369.98 524.71,370.46 525.60,370.91 526.49,371.35 527.40,371.77 528.32,372.17 529.25,372.54 530.19,372.89 531.14,373.21 532.10,373.50 533.07,373.76 534.06,373.98 535.06,374.18 536.07,374.35 537.09,374.50 538.11,374.63 539.14,374.74 540.16,374.84 541.19,374.92 542.20,375.00 543.21,375.06 544.23,375.10 545.25,375.12 546.26,375.13 547.28,375.12 548.30,375.10 549.31,375.08 550.31,375.05 551.31,375.02 552.30,375.00 553.28,374.97 554.24,374.92 555.20,374.87 556.15,374.81 557.10,374.74 558.05,374.69 559.00,374.64 559.96,374.60 560.92,374.59 561.90,374.60 562.89,374.62 563.90,374.65 564.91,374.67 565.93,374.71 566.96,374.77 567.98,374.85 569.00,374.95 570.01,375.09 571.01,375.27 572.00,375.50 572.98,375.77 573.96,376.09 574.94,376.45 575.92,376.85 576.89,377.27 577.84,377.71 578.79,378.17 579.71,378.65 580.62,379.12 581.50,379.60 582.36,380.08 583.19,380.59 584.00,381.10 584.79,381.63 585.57,382.18 586.34,382.73 587.10,383.29 587.86,383.85 588.63,384.43 589.40,385.00 590.17,385.58 590.93,386.17 591.68,386.76 592.42,387.37 593.17,387.98 593.92,388.59 594.67,389.21 595.43,389.84 596.21,390.47 597.00,391.10 597.81,391.74 598.64,392.39 599.48,393.05 600.33,393.72 601.18,394.39 602.04,395.06 602.89,395.73 603.74,396.39 604.58,397.05 605.40,397.70 606.21,398.34 607.01,398.99 607.81,399.62 608.60,400.26 609.39,400.89 610.17,401.52 610.95,402.15 611.73,402.77 612.52,403.39 613.30,404.00 614.08,404.61 614.86,405.21 615.63,405.82 616.41,406.41 617.18,407.01 617.96,407.60 618.73,408.18 619.52,408.76 620.30,409.33 621.10,409.90 621.90,410.47 622.70,411.03 623.49,411.60 624.29,412.16 625.10,412.72 625.91,413.26 626.74,413.80 627.58,414.32 628.43,414.82 629.30,415.30 630.19,415.77 631.10,416.25 632.02,416.71 632.95,417.17 633.89,417.61 634.85,418.02 635.81,418.40 636.77,418.75 637.73,419.05 638.70,419.30 639.67,419.50 640.65,419.66 641.64,419.78 642.64,419.86 643.64,419.91 644.64,419.93 645.64,419.92 646.63,419.90 647.62,419.85 648.60,419.80 649.57,419.72 650.53,419.62 651.49,419.49 652.45,419.34 653.40,419.17 654.35,418.98 655.31,418.77 656.27,418.56 657.23,418.33 658.20,418.10 659.18,417.85 660.18,417.59 661.18,417.31 662.19,417.01 663.19,416.70 664.20,416.38 665.19,416.06 666.18,415.74 667.15,415.42 668.10,415.10 669.03,414.78 669.93,414.47 670.81,414.15 671.68,413.83 672.55,413.50 673.42,413.17 674.29,412.84 675.17,412.50 676.07,412.15 677.00,411.80 677.95,411.43 678.92,411.04 679.91,410.63 680.91,410.21 681.92,409.79 682.93,409.39 683.94,408.99 684.94,408.63 685.93,408.29 686.90,408.00 687.86,407.73 688.81,407.46 689.74,407.21 690.68,406.98 691.61,406.77 692.54,406.60 693.47,406.47 694.40,406.38 695.35,406.36 696.30,406.40 697.27,406.52 698.25,406.71 699.24,406.96 700.23,407.26 701.23,407.61 702.23,407.98 703.21,408.36 704.19,408.75 705.15,409.14 706.10,409.50 707.03,409.86 707.95,410.22 708.86,410.60 709.75,410.98 710.64,411.38 711.53,411.77 712.40,412.18 713.27,412.58 714.14,412.99 715.00,413.40 715.85,413.81 716.69,414.23 717.52,414.66 718.33,415.09 719.15,415.52 719.97,415.95 720.78,416.39 721.61,416.83 722.45,417.26 723.30,417.70 724.16,418.14 725.03,418.58 725.90,419.02 726.77,419.46 727.66,419.90 728.55,420.34 729.44,420.78 730.35,421.22 731.27,421.66 732.20,422.10 733.15,422.53 734.11,422.95 735.09,423.37 736.07,423.79 737.07,424.21 738.07,424.63 739.06,425.05 740.05,425.49 741.03,425.94 742.00,426.40 742.97,426.89 743.97,427.41 744.97,427.95 745.97,428.50 746.96,429.05 747.93,429.59 748.87,430.12 749.77,430.62 750.62,431.08 751.40,431.50 752.14,431.88 752.85,432.24 753.54,432.57 754.18,432.88 754.79,433.17 755.35,433.43 755.85,433.66 756.30,433.87 756.68,434.05 757.00,434.20 758.00,434.20 758.00,700.00" fill="url(#pBlue)" clip-path="url(#cAboveT)"/>
<polygon points="36.00,0.00 36.00,434.30 36.15,434.30 36.30,434.30 36.46,434.31 36.65,434.31 36.88,434.32 37.15,434.32 37.49,434.32 37.90,434.32 38.40,434.31 39.00,434.30 39.72,434.28 40.55,434.26 41.49,434.24 42.50,434.21 43.56,434.18 44.66,434.15 45.78,434.11 46.89,434.08 47.97,434.04 49.00,434.00 50.00,433.96 51.00,433.92 52.00,433.87 53.00,433.82 54.00,433.77 55.00,433.72 56.00,433.67 57.00,433.62 58.00,433.56 59.00,433.50 59.93,433.45 60.74,433.40 61.50,433.36 62.23,433.32 63.00,433.27 63.85,433.22 64.82,433.15 65.98,433.06 67.35,432.94 69.00,432.80 70.96,432.63 73.19,432.46 75.66,432.26 78.30,432.05 81.06,431.82 83.90,431.57 86.77,431.29 89.61,430.99 92.37,430.66 95.00,430.30 97.62,429.89 100.34,429.43 103.12,428.92 105.90,428.38 108.64,427.83 111.29,427.28 113.80,426.73 116.12,426.21 118.21,425.73 120.00,425.30 121.46,424.92 122.61,424.56 123.52,424.23 124.22,423.92 124.80,423.63 125.30,423.35 125.78,423.09 126.30,422.82 126.92,422.56 127.70,422.30 128.59,422.04 129.52,421.79 130.48,421.54 131.46,421.31 132.46,421.08 133.47,420.85 134.49,420.63 135.50,420.42 136.51,420.21 137.50,420.00 138.49,419.79 139.47,419.59 140.46,419.38 141.45,419.18 142.44,418.98 143.43,418.80 144.42,418.62 145.41,418.46 146.41,418.32 147.40,418.20 148.40,418.10 149.40,418.01 150.40,417.93 151.40,417.87 152.41,417.82 153.41,417.79 154.41,417.77 155.41,417.77 156.41,417.78 157.40,417.80 158.39,417.84 159.38,417.88 160.37,417.94 161.36,418.02 162.35,418.11 163.33,418.21 164.31,418.33 165.28,418.47 166.25,418.62 167.20,418.80 168.14,419.00 169.07,419.22 169.99,419.46 170.90,419.72 171.81,420.00 172.72,420.29 173.63,420.59 174.54,420.89 175.47,421.19 176.40,421.50 177.34,421.81 178.29,422.14 179.25,422.47 180.21,422.81 181.17,423.16 182.13,423.51 183.10,423.87 184.07,424.22 185.03,424.56 186.00,424.90 186.97,425.23 187.94,425.56 188.91,425.89 189.88,426.22 190.85,426.55 191.82,426.88 192.79,427.21 193.76,427.54 194.73,427.87 195.70,428.20 196.67,428.54 197.64,428.87 198.61,429.21 199.58,429.54 200.55,429.88 201.52,430.22 202.47,430.56 203.43,430.91 204.37,431.25 205.30,431.60 206.21,431.95 207.11,432.31 208.00,432.67 208.87,433.04 209.74,433.40 210.62,433.76 211.49,434.13 212.38,434.49 213.28,434.85 214.20,435.20 215.14,435.55 216.09,435.89 217.05,436.23 218.03,436.56 219.01,436.89 219.99,437.23 220.97,437.56 221.95,437.90 222.93,438.25 223.90,438.60 224.87,438.96 225.83,439.32 226.80,439.69 227.77,440.06 228.74,440.43 229.70,440.81 230.66,441.18 231.61,441.56 232.56,441.93 233.50,442.30 234.43,442.67 235.35,443.05 236.26,443.43 237.16,443.80 238.06,444.18 238.96,444.56 239.86,444.93 240.77,445.29 241.68,445.65 242.60,446.00 243.53,446.34 244.46,446.67 245.40,446.99 246.35,447.31 247.29,447.62 248.24,447.93 249.19,448.24 250.13,448.56 251.07,448.87 252.00,449.20 252.93,449.53 253.85,449.87 254.77,450.21 255.69,450.55 256.61,450.89 257.53,451.23 258.45,451.57 259.36,451.92 260.28,452.26 261.20,452.60 262.12,452.94 263.03,453.28 263.94,453.62 264.86,453.96 265.77,454.31 266.68,454.65 267.60,454.99 268.53,455.33 269.46,455.66 270.40,456.00 271.36,456.32 272.34,456.62 273.33,456.91 274.34,457.20 275.34,457.49 276.33,457.79 277.31,458.11 278.27,458.47 279.20,458.86 280.10,459.30 280.96,459.78 281.81,460.30 282.63,460.84 283.43,461.42 284.22,462.02 284.99,462.64 285.74,463.28 286.47,463.94 287.19,464.61 287.90,465.30 288.58,466.01 289.23,466.75 289.86,467.51 290.47,468.30 291.06,469.09 291.65,469.90 292.25,470.71 292.85,471.52 293.46,472.32 294.10,473.10 294.75,473.88 295.41,474.67 296.07,475.46 296.73,476.25 297.41,477.04 298.09,477.83 298.77,478.60 299.47,479.35 300.18,480.09 300.90,480.80 301.63,481.50 302.36,482.18 303.11,482.85 303.86,483.51 304.62,484.16 305.39,484.78 306.17,485.39 306.97,485.98 307.78,486.55 308.60,487.10 309.44,487.63 310.29,488.15 311.16,488.65 312.04,489.13 312.93,489.59 313.82,490.03 314.73,490.45 315.65,490.83 316.57,491.18 317.50,491.50 318.44,491.79 319.39,492.07 320.35,492.32 321.33,492.54 322.31,492.74 323.29,492.90 324.27,493.02 325.25,493.09 326.23,493.12 327.20,493.10 328.18,493.03 329.17,492.93 330.18,492.78 331.19,492.59 332.19,492.36 333.17,492.09 334.14,491.77 335.07,491.39 335.96,490.97 336.80,490.50 337.60,489.96 338.38,489.36 339.14,488.70 339.87,487.98 340.56,487.23 341.23,486.43 341.85,485.62 342.44,484.78 342.99,483.94 343.50,483.10 343.95,482.24 344.33,481.35 344.65,480.44 344.94,479.50 345.19,478.55 345.43,477.58 345.67,476.61 345.92,475.64 346.19,474.67 346.50,473.70 346.84,472.74 347.19,471.77 347.55,470.79 347.92,469.81 348.29,468.82 348.66,467.84 349.03,466.85 349.40,465.87 349.75,464.88 350.10,463.90 350.44,462.92 350.77,461.93 351.09,460.94 351.41,459.95 351.73,458.96 352.04,457.98 352.35,457.00 352.67,456.02 352.98,455.06 353.30,454.10 353.62,453.16 353.94,452.23 354.27,451.31 354.59,450.41 354.92,449.50 355.24,448.59 355.56,447.69 355.88,446.77 356.19,445.84 356.50,444.90 356.80,443.94 357.09,442.97 357.38,441.98 357.67,440.98 357.95,439.99 358.23,438.99 358.52,438.00 358.81,437.02 359.10,436.05 359.40,435.10 359.71,434.17 360.03,433.25 360.35,432.35 360.67,431.46 361.00,430.57 361.33,429.68 361.65,428.80 361.97,427.91 362.29,427.01 362.60,426.10 362.90,425.18 363.19,424.27 363.48,423.34 363.77,422.42 364.05,421.49 364.33,420.56 364.62,419.63 364.91,418.69 365.20,417.75 365.50,416.80 365.81,415.84 366.13,414.88 366.45,413.90 366.77,412.92 367.10,411.94 367.43,410.96 367.75,409.98 368.07,409.01 368.39,408.05 368.70,407.10 369.00,406.17 369.29,405.25 369.58,404.34 369.87,403.45 370.15,402.55 370.43,401.65 370.72,400.76 371.01,399.85 371.30,398.93 371.60,398.00 371.91,397.05 372.23,396.10 372.55,395.14 372.87,394.17 373.20,393.19 373.53,392.22 373.85,391.24 374.17,390.26 374.49,389.28 374.80,388.30 375.10,387.32 375.39,386.34 375.68,385.35 375.97,384.36 376.25,383.37 376.53,382.38 376.82,381.40 377.11,380.42 377.40,379.46 377.70,378.50 378.01,377.56 378.33,376.63 378.65,375.71 378.97,374.79 379.30,373.88 379.63,372.97 379.95,372.06 380.27,371.15 380.59,370.23 380.90,369.30 381.20,368.36 381.49,367.42 381.77,366.47 382.05,365.51 382.32,364.56 382.60,363.60 382.89,362.64 383.18,361.69 383.48,360.74 383.80,359.80 384.13,358.86 384.47,357.93 384.81,357.00 385.16,356.07 385.52,355.14 385.88,354.21 386.25,353.28 386.63,352.36 387.01,351.43 387.40,350.50 387.79,349.57 388.19,348.64 388.59,347.70 389.00,346.77 389.42,345.83 389.84,344.90 390.27,343.97 390.71,343.04 391.15,342.12 391.60,341.20 392.06,340.28 392.53,339.36 393.00,338.45 393.48,337.53 393.97,336.62 394.46,335.71 394.96,334.82 395.47,333.93 395.98,333.06 396.50,332.20 397.03,331.36 397.56,330.54 398.11,329.74 398.66,328.95 399.22,328.17 399.78,327.39 400.34,326.61 400.90,325.82 401.45,325.02 402.00,324.20 402.54,323.37 403.08,322.52 403.61,321.67 404.14,320.81 404.67,319.94 405.20,319.08 405.74,318.22 406.28,317.37 406.84,316.53 407.40,315.70 407.97,314.89 408.56,314.08 409.14,313.29 409.74,312.51 410.34,311.73 410.94,310.95 411.55,310.17 412.16,309.38 412.78,308.60 413.40,307.80 414.02,306.99 414.66,306.18 415.30,305.36 415.94,304.54 416.59,303.72 417.24,302.90 417.88,302.08 418.53,301.28 419.17,300.48 419.80,299.70 420.43,298.94 421.04,298.19 421.66,297.45 422.27,296.73 422.88,296.01 423.49,295.28 424.11,294.56 424.73,293.82 425.36,293.07 426.00,292.30 426.64,291.50 427.29,290.65 427.93,289.78 428.58,288.90 429.23,288.02 429.90,287.15 430.57,286.31 431.26,285.52 431.97,284.77 432.70,284.10 433.44,283.48 434.20,282.88 434.96,282.32 435.74,281.79 436.54,281.31 437.35,280.86 438.18,280.47 439.03,280.12 439.90,279.83 440.80,279.60 441.73,279.44 442.69,279.36 443.69,279.35 444.70,279.39 445.73,279.48 446.77,279.59 447.81,279.72 448.85,279.86 449.89,279.99 450.90,280.10 451.91,280.19 452.92,280.28 453.94,280.37 454.96,280.46 455.97,280.57 456.98,280.70 457.98,280.86 458.97,281.06 459.94,281.30 460.90,281.60 461.85,281.94 462.80,282.32 463.75,282.74 464.68,283.19 465.61,283.68 466.51,284.19 467.39,284.75 468.23,285.33 469.04,285.95 469.80,286.60 470.52,287.30 471.19,288.05 471.82,288.84 472.42,289.67 473.00,290.53 473.56,291.41 474.10,292.29 474.63,293.17 475.16,294.05 475.70,294.90 476.23,295.74 476.75,296.57 477.26,297.41 477.76,298.25 478.24,299.09 478.72,299.93 479.20,300.78 479.67,301.65 480.13,302.52 480.60,303.40 481.06,304.30 481.51,305.22 481.94,306.16 482.38,307.10 482.81,308.05 483.24,309.00 483.67,309.94 484.10,310.88 484.55,311.80 485.00,312.70 485.47,313.58 485.94,314.44 486.42,315.30 486.91,316.14 487.40,316.97 487.89,317.81 488.38,318.65 488.86,319.49 489.33,320.34 489.80,321.20 490.26,322.07 490.70,322.96 491.14,323.85 491.58,324.74 492.01,325.64 492.44,326.54 492.88,327.43 493.31,328.33 493.75,329.22 494.20,330.10 494.65,330.98 495.11,331.85 495.57,332.71 496.03,333.58 496.49,334.44 496.95,335.30 497.41,336.17 497.88,337.04 498.34,337.91 498.80,338.80 499.26,339.70 499.71,340.61 500.17,341.52 500.62,342.44 501.08,343.37 501.53,344.29 501.99,345.21 502.45,346.12 502.92,347.02 503.40,347.90 503.88,348.77 504.34,349.64 504.81,350.50 505.28,351.36 505.76,352.21 506.24,353.05 506.75,353.88 507.27,354.70 507.82,355.50 508.40,356.30 509.01,357.09 509.65,357.87 510.31,358.64 510.98,359.41 511.68,360.16 512.39,360.90 513.11,361.63 513.84,362.34 514.57,363.03 515.30,363.70 516.03,364.35 516.77,364.99 517.51,365.61 518.26,366.22 519.01,366.81 519.78,367.39 520.56,367.94 521.36,368.48 522.17,369.00 523.00,369.50 523.85,369.98 524.71,370.46 525.60,370.91 526.49,371.35 527.40,371.77 528.32,372.17 529.25,372.54 530.19,372.89 531.14,373.21 532.10,373.50 533.07,373.76 534.06,373.98 535.06,374.18 536.07,374.35 537.09,374.50 538.11,374.63 539.14,374.74 540.16,374.84 541.19,374.92 542.20,375.00 543.21,375.06 544.23,375.10 545.25,375.12 546.26,375.13 547.28,375.12 548.30,375.10 549.31,375.08 550.31,375.05 551.31,375.02 552.30,375.00 553.28,374.97 554.24,374.92 555.20,374.87 556.15,374.81 557.10,374.74 558.05,374.69 559.00,374.64 559.96,374.60 560.92,374.59 561.90,374.60 562.89,374.62 563.90,374.65 564.91,374.67 565.93,374.71 566.96,374.77 567.98,374.85 569.00,374.95 570.01,375.09 571.01,375.27 572.00,375.50 572.98,375.77 573.96,376.09 574.94,376.45 575.92,376.85 576.89,377.27 577.84,377.71 578.79,378.17 579.71,378.65 580.62,379.12 581.50,379.60 582.36,380.08 583.19,380.59 584.00,381.10 584.79,381.63 585.57,382.18 586.34,382.73 587.10,383.29 587.86,383.85 588.63,384.43 589.40,385.00 590.17,385.58 590.93,386.17 591.68,386.76 592.42,387.37 593.17,387.98 593.92,388.59 594.67,389.21 595.43,389.84 596.21,390.47 597.00,391.10 597.81,391.74 598.64,392.39 599.48,393.05 600.33,393.72 601.18,394.39 602.04,395.06 602.89,395.73 603.74,396.39 604.58,397.05 605.40,397.70 606.21,398.34 607.01,398.99 607.81,399.62 608.60,400.26 609.39,400.89 610.17,401.52 610.95,402.15 611.73,402.77 612.52,403.39 613.30,404.00 614.08,404.61 614.86,405.21 615.63,405.82 616.41,406.41 617.18,407.01 617.96,407.60 618.73,408.18 619.52,408.76 620.30,409.33 621.10,409.90 621.90,410.47 622.70,411.03 623.49,411.60 624.29,412.16 625.10,412.72 625.91,413.26 626.74,413.80 627.58,414.32 628.43,414.82 629.30,415.30 630.19,415.77 631.10,416.25 632.02,416.71 632.95,417.17 633.89,417.61 634.85,418.02 635.81,418.40 636.77,418.75 637.73,419.05 638.70,419.30 639.67,419.50 640.65,419.66 641.64,419.78 642.64,419.86 643.64,419.91 644.64,419.93 645.64,419.92 646.63,419.90 647.62,419.85 648.60,419.80 649.57,419.72 650.53,419.62 651.49,419.49 652.45,419.34 653.40,419.17 654.35,418.98 655.31,418.77 656.27,418.56 657.23,418.33 658.20,418.10 659.18,417.85 660.18,417.59 661.18,417.31 662.19,417.01 663.19,416.70 664.20,416.38 665.19,416.06 666.18,415.74 667.15,415.42 668.10,415.10 669.03,414.78 669.93,414.47 670.81,414.15 671.68,413.83 672.55,413.50 673.42,413.17 674.29,412.84 675.17,412.50 676.07,412.15 677.00,411.80 677.95,411.43 678.92,411.04 679.91,410.63 680.91,410.21 681.92,409.79 682.93,409.39 683.94,408.99 684.94,408.63 685.93,408.29 686.90,408.00 687.86,407.73 688.81,407.46 689.74,407.21 690.68,406.98 691.61,406.77 692.54,406.60 693.47,406.47 694.40,406.38 695.35,406.36 696.30,406.40 697.27,406.52 698.25,406.71 699.24,406.96 700.23,407.26 701.23,407.61 702.23,407.98 703.21,408.36 704.19,408.75 705.15,409.14 706.10,409.50 707.03,409.86 707.95,410.22 708.86,410.60 709.75,410.98 710.64,411.38 711.53,411.77 712.40,412.18 713.27,412.58 714.14,412.99 715.00,413.40 715.85,413.81 716.69,414.23 717.52,414.66 718.33,415.09 719.15,415.52 719.97,415.95 720.78,416.39 721.61,416.83 722.45,417.26 723.30,417.70 724.16,418.14 725.03,418.58 725.90,419.02 726.77,419.46 727.66,419.90 728.55,420.34 729.44,420.78 730.35,421.22 731.27,421.66 732.20,422.10 733.15,422.53 734.11,422.95 735.09,423.37 736.07,423.79 737.07,424.21 738.07,424.63 739.06,425.05 740.05,425.49 741.03,425.94 742.00,426.40 742.97,426.89 743.97,427.41 744.97,427.95 745.97,428.50 746.96,429.05 747.93,429.59 748.87,430.12 749.77,430.62 750.62,431.08 751.40,431.50 752.14,431.88 752.85,432.24 753.54,432.57 754.18,432.88 754.79,433.17 755.35,433.43 755.85,433.66 756.30,433.87 756.68,434.05 757.00,434.20 758.00,434.20 758.00,0.00" fill="url(#pOrange)" clip-path="url(#cBelowT)"/>
<g stroke="#000" stroke-width="1" shape-rendering="crispEdges">
<line x1="35.5" y1="187" x2="35.5" y2="648.5"/>
<line x1="27" y1="187.5" x2="44" y2="187.5"/>
<line x1="27" y1="301.5" x2="44" y2="301.5"/>
<line x1="27" y1="418.5" x2="44" y2="418.5"/>
<line x1="27" y1="533.5" x2="44" y2="533.5"/>
<line x1="27" y1="648.5" x2="44" y2="648.5"/>
<line x1="758.5" y1="71" x2="758.5" y2="544"/>
<line x1="751" y1="71.5" x2="768" y2="71.5"/>
<line x1="751" y1="186.5" x2="768" y2="186.5"/>
<line x1="751" y1="301.5" x2="768" y2="301.5"/>
<line x1="751" y1="418.5" x2="768" y2="418.5"/>
<line x1="751" y1="533.5" x2="768" y2="533.5"/>
<line x1="27" y1="533.5" x2="768" y2="533.5"/>
<line x1="95.5" y1="533" x2="95.5" y2="544"/>
<line x1="155.5" y1="533" x2="155.5" y2="544"/>
<line x1="215.5" y1="533" x2="215.5" y2="544"/>
<line x1="276.5" y1="533" x2="276.5" y2="544"/>
<line x1="336.5" y1="533" x2="336.5" y2="544"/>
<line x1="396.5" y1="533" x2="396.5" y2="544"/>
<line x1="456.5" y1="533" x2="456.5" y2="544"/>
<line x1="517.5" y1="533" x2="517.5" y2="544"/>
<line x1="577.5" y1="533" x2="577.5" y2="544"/>
<line x1="637.5" y1="533" x2="637.5" y2="544"/>
<line x1="697.5" y1="533" x2="697.5" y2="544"/>
</g>
<g font-family='"Liberation Sans", sans-serif'>
<text id="t55" style="white-space:pre" x="18.87" y="573.00" font-size="20.00" font-weight="normal" fill="#000" textLength="31.86" lengthAdjust="spacingAndGlyphs">Jan</text>
<text id="t56" style="white-space:pre" x="73.13" y="573.00" font-size="20.00" font-weight="normal" fill="#000" textLength="34.81" lengthAdjust="spacingAndGlyphs">Feb</text>
<text id="t57" style="white-space:pre" x="136.03" y="573.00" font-size="20.00" font-weight="normal" fill="#000" textLength="40.47" lengthAdjust="spacingAndGlyphs">Mar</text>
<text id="t58" style="white-space:pre" x="198.57" y="573.00" font-size="20.00" font-weight="normal" fill="#000" textLength="33.85" lengthAdjust="spacingAndGlyphs">Apr</text>
<text id="t59" style="white-space:pre" x="255.01" y="573.00" font-size="20.00" font-weight="normal" fill="#000" textLength="43.27" lengthAdjust="spacingAndGlyphs">May</text>
<text id="t60" style="white-space:pre" x="318.59" y="573.00" font-size="20.00" font-weight="normal" fill="#000" textLength="33.56" lengthAdjust="spacingAndGlyphs">Jun</text>
<text id="t61" style="white-space:pre" x="384.87" y="573.00" font-size="20.00" font-weight="normal" fill="#000" textLength="26.46" lengthAdjust="spacingAndGlyphs">Jul</text>
<text id="t62" style="white-space:pre" x="444.00" y="573.00" font-size="20.00" font-weight="normal" fill="#000" textLength="38.64" lengthAdjust="spacingAndGlyphs">Aug</text>
<text id="t63" style="white-space:pre" x="502.57" y="573.00" font-size="20.00" font-weight="normal" fill="#000" textLength="36.36" lengthAdjust="spacingAndGlyphs">Sep</text>
<text id="t64" style="white-space:pre" x="561.48" y="573.00" font-size="20.00" font-weight="normal" fill="#000" textLength="33.83" lengthAdjust="spacingAndGlyphs">Oct</text>
<text id="t65" style="white-space:pre" x="617.72" y="573.00" font-size="20.00" font-weight="normal" fill="#000" textLength="38.87" lengthAdjust="spacingAndGlyphs">Nov</text>
<text id="t66" style="white-space:pre" x="677.54" y="573.00" font-size="20.00" font-weight="normal" fill="#000" textLength="36.88" lengthAdjust="spacingAndGlyphs">Dec</text>
<text id="t67" style="white-space:pre" x="736.76" y="573.00" font-size="20.00" font-weight="normal" fill="#000" textLength="32.10" lengthAdjust="spacingAndGlyphs">Jan</text>
<text id="t101" style="white-space:pre" x="304.75" y="397.30" font-size="16.50" font-weight="bold" fill="#A5520E" textLength="34.29" lengthAdjust="spacingAndGlyphs">Arid</text>
<text id="t102" style="white-space:pre" x="297.38" y="420.20" font-size="16.50" font-weight="bold" fill="#A5520E" textLength="51.27" lengthAdjust="spacingAndGlyphs">Period</text>
<text id="t103" style="white-space:pre" x="65.24" y="471.30" font-size="16.50" font-weight="bold" fill="#325E9C" textLength="51.26" lengthAdjust="spacingAndGlyphs">Humid</text>
<text id="t104" style="white-space:pre" x="65.26" y="494.00" font-size="16.50" font-weight="bold" fill="#325E9C" textLength="51.39" lengthAdjust="spacingAndGlyphs">Period</text>
<text id="t105" style="white-space:pre" x="672.77" y="467.60" font-size="16.50" font-weight="bold" fill="#325E9C" textLength="50.94" lengthAdjust="spacingAndGlyphs">Humid</text>
<text id="t106" style="white-space:pre" x="672.77" y="490.70" font-size="16.50" font-weight="bold" fill="#325E9C" textLength="50.94" lengthAdjust="spacingAndGlyphs">Period</text>
</g>
<path d="M36.00,434.30 C36.50,434.30 36.83,434.35 39.00,434.30 C41.17,434.25 45.67,434.13 49.00,434.00 C52.33,433.87 55.67,433.70 59.00,433.50 C62.33,433.30 63.00,433.33 69.00,432.80 C75.00,432.27 86.50,431.55 95.00,430.30 C103.50,429.05 114.55,426.63 120.00,425.30 C125.45,423.97 124.78,423.18 127.70,422.30 C130.62,421.42 134.22,420.68 137.50,420.00 C140.78,419.32 144.08,418.57 147.40,418.20 C150.72,417.83 154.10,417.70 157.40,417.80 C160.70,417.90 164.03,418.18 167.20,418.80 C170.37,419.42 173.27,420.48 176.40,421.50 C179.53,422.52 182.78,423.78 186.00,424.90 C189.22,426.02 192.48,427.08 195.70,428.20 C198.92,429.32 202.22,430.43 205.30,431.60 C208.38,432.77 211.10,434.03 214.20,435.20 C217.30,436.37 220.68,437.42 223.90,438.60 C227.12,439.78 230.38,441.07 233.50,442.30 C236.62,443.53 239.52,444.85 242.60,446.00 C245.68,447.15 248.90,448.10 252.00,449.20 C255.10,450.30 258.13,451.47 261.20,452.60 C264.27,453.73 267.25,454.88 270.40,456.00 C273.55,457.12 277.18,457.75 280.10,459.30 C283.02,460.85 285.57,463.00 287.90,465.30 C290.23,467.60 291.93,470.52 294.10,473.10 C296.27,475.68 298.48,478.47 300.90,480.80 C303.32,483.13 305.83,485.32 308.60,487.10 C311.37,488.88 314.40,490.50 317.50,491.50 C320.60,492.50 323.98,493.27 327.20,493.10 C330.42,492.93 334.08,492.17 336.80,490.50 C339.52,488.83 341.88,485.90 343.50,483.10 C345.12,480.30 345.40,476.90 346.50,473.70 C347.60,470.50 348.97,467.17 350.10,463.90 C351.23,460.63 352.23,457.27 353.30,454.10 C354.37,450.93 355.48,448.07 356.50,444.90 C357.52,441.73 358.38,438.23 359.40,435.10 C360.42,431.97 361.58,429.15 362.60,426.10 C363.62,423.05 364.48,419.97 365.50,416.80 C366.52,413.63 367.68,410.23 368.70,407.10 C369.72,403.97 370.58,401.13 371.60,398.00 C372.62,394.87 373.78,391.55 374.80,388.30 C375.82,385.05 376.68,381.67 377.70,378.50 C378.72,375.33 379.88,372.42 380.90,369.30 C381.92,366.18 382.72,362.93 383.80,359.80 C384.88,356.67 386.10,353.60 387.40,350.50 C388.70,347.40 390.08,344.25 391.60,341.20 C393.12,338.15 394.77,335.03 396.50,332.20 C398.23,329.37 400.18,326.95 402.00,324.20 C403.82,321.45 405.50,318.43 407.40,315.70 C409.30,312.97 411.33,310.47 413.40,307.80 C415.47,305.13 417.70,302.28 419.80,299.70 C421.90,297.12 423.85,294.90 426.00,292.30 C428.15,289.70 430.23,286.22 432.70,284.10 C435.17,281.98 437.77,280.27 440.80,279.60 C443.83,278.93 447.55,279.77 450.90,280.10 C454.25,280.43 457.75,280.52 460.90,281.60 C464.05,282.68 467.33,284.38 469.80,286.60 C472.27,288.82 473.90,292.10 475.70,294.90 C477.50,297.70 479.05,300.43 480.60,303.40 C482.15,306.37 483.47,309.73 485.00,312.70 C486.53,315.67 488.27,318.30 489.80,321.20 C491.33,324.10 492.70,327.17 494.20,330.10 C495.70,333.03 497.27,335.83 498.80,338.80 C500.33,341.77 501.80,344.98 503.40,347.90 C505.00,350.82 506.42,353.67 508.40,356.30 C510.38,358.93 512.87,361.50 515.30,363.70 C517.73,365.90 520.20,367.87 523.00,369.50 C525.80,371.13 528.90,372.58 532.10,373.50 C535.30,374.42 538.83,374.75 542.20,375.00 C545.57,375.25 549.02,375.07 552.30,375.00 C555.58,374.93 558.62,374.52 561.90,374.60 C565.18,374.68 568.73,374.67 572.00,375.50 C575.27,376.33 578.60,378.02 581.50,379.60 C584.40,381.18 586.82,383.08 589.40,385.00 C591.98,386.92 594.33,388.98 597.00,391.10 C599.67,393.22 602.68,395.55 605.40,397.70 C608.12,399.85 610.68,401.97 613.30,404.00 C615.92,406.03 618.43,408.02 621.10,409.90 C623.77,411.78 626.37,413.73 629.30,415.30 C632.23,416.87 635.48,418.55 638.70,419.30 C641.92,420.05 645.35,420.00 648.60,419.80 C651.85,419.60 654.95,418.88 658.20,418.10 C661.45,417.32 664.97,416.15 668.10,415.10 C671.23,414.05 673.87,412.98 677.00,411.80 C680.13,410.62 683.68,408.90 686.90,408.00 C690.12,407.10 693.10,406.15 696.30,406.40 C699.50,406.65 702.98,408.33 706.10,409.50 C709.22,410.67 712.13,412.03 715.00,413.40 C717.87,414.77 720.43,416.25 723.30,417.70 C726.17,419.15 729.08,420.65 732.20,422.10 C735.32,423.55 738.80,424.83 742.00,426.40 C745.20,427.97 748.90,430.20 751.40,431.50 C753.90,432.80 756.07,433.75 757.00,434.20" fill="none" stroke="#1F3A60" stroke-width="4.8" stroke-dasharray="4.8 5.205" stroke-dashoffset="9.475" stroke-linecap="butt"/>
<path d="M35.00,562.20 C35.32,562.10 33.67,562.85 36.90,561.60 C40.13,560.35 49.20,557.25 54.40,554.70 C59.60,552.15 63.02,549.22 68.10,546.30 C73.18,543.38 79.95,540.25 84.90,537.20 C89.85,534.15 92.85,531.18 97.80,528.00 C102.75,524.82 109.72,521.57 114.60,518.10 C119.48,514.63 122.40,510.57 127.10,507.20 C131.80,503.83 138.02,501.30 142.80,497.90 C147.58,494.50 151.15,490.20 155.80,486.80 C160.45,483.40 166.07,480.97 170.70,477.50 C175.33,474.03 178.97,469.72 183.60,466.00 C188.23,462.28 194.02,458.85 198.50,455.20 C202.98,451.55 206.02,447.80 210.50,444.10 C214.98,440.40 220.95,436.77 225.40,433.00 C229.85,429.23 232.95,425.50 237.20,421.50 C241.45,417.50 246.72,413.07 250.90,409.00 C255.08,404.93 258.00,401.12 262.30,397.10 C266.60,393.08 272.47,388.77 276.70,384.90 C280.93,381.03 283.62,378.07 287.70,373.90 C291.78,369.73 297.03,364.17 301.20,359.90 C305.37,355.63 308.50,352.32 312.70,348.30 C316.90,344.28 322.22,339.87 326.40,335.80 C330.58,331.73 333.42,327.92 337.80,323.90 C342.18,319.88 348.40,315.35 352.70,311.70 C357.00,308.05 359.12,305.48 363.60,302.00 C368.08,298.52 374.40,293.67 379.60,290.80 C384.80,287.93 389.17,286.08 394.80,284.80 C400.43,283.52 407.58,282.97 413.40,283.10 C419.22,283.23 424.02,284.25 429.70,285.60 C435.38,286.95 442.07,288.98 447.50,291.20 C452.93,293.42 457.10,296.37 462.30,298.90 C467.50,301.43 473.77,303.32 478.70,306.40 C483.63,309.48 487.17,313.73 491.90,317.40 C496.63,321.07 502.83,324.53 507.10,328.40 C511.37,332.27 513.42,336.33 517.50,340.60 C521.58,344.87 527.78,349.63 531.60,354.00 C535.42,358.37 536.80,362.38 540.40,366.80 C544.00,371.22 549.55,375.93 553.20,380.50 C556.85,385.07 558.80,389.48 562.30,394.20 C565.80,398.92 570.63,403.95 574.20,408.80 C577.77,413.65 580.05,418.37 583.70,423.30 C587.35,428.23 592.90,433.82 596.10,438.40 C599.30,442.98 599.70,446.23 602.90,450.80 C606.10,455.37 611.87,461.23 615.30,465.80 C618.73,470.37 619.85,473.85 623.50,478.20 C627.15,482.55 633.32,487.33 637.20,491.90 C641.08,496.47 642.92,501.25 646.80,505.60 C650.68,509.95 656.38,514.12 660.50,518.00 C664.62,521.88 667.15,524.57 671.50,528.90 C675.85,533.23 682.03,540.10 686.60,544.00 C691.17,547.90 693.87,549.87 698.90,552.30 C703.93,554.73 711.08,557.37 716.80,558.60 C722.52,559.83 727.27,559.07 733.20,559.70 C739.13,560.33 748.27,561.92 752.40,562.40 C756.53,562.88 757.07,562.57 758.00,562.60" fill="none" stroke="#4F6228" stroke-width="4.7" stroke-dasharray="19.6 15.49" stroke-dashoffset="32.69" stroke-linecap="butt"/>
<g fill="none" stroke="#4F6228" stroke-width="0.8"><line x1="96.7" y1="245.55" x2="42" y2="245.55"/><path d="M209,247 C260,244 318,272 334.6,309.5"/></g>
<g fill="#4F6228"><polygon points="36.2,245.5 44,241.5 44,249.5"/><polygon points="335.4,316.4 330.6,309.2 338.8,308.2"/></g>
<g fill="none" stroke="#1F3A60" stroke-width="1"><line x1="709.6" y1="245.5" x2="751" y2="245.5"/><path d="M592.5,246.5 C555,247 522,266 487,290.3"/></g>
<g fill="#1F3A60"><polygon points="758,245.5 750,241.5 750,249.5"/><polygon points="481.2,294.4 485.2,287.0 489.4,293.4"/></g>
<g stroke="#000" stroke-width="1.75" fill="none"><line x1="180.9" y1="77.2" x2="187.6" y2="58.8"/><line x1="283.9" y1="106.2" x2="290.9" y2="87.8"/><line x1="306.9" y1="135.2" x2="313.9" y2="116.8"/></g>
<rect x="110.5" y="590.50" width="20" height="19" fill="url(#lPurple)" stroke="#000" stroke-width="1.15"/>
<rect x="110.5" y="612.50" width="20" height="19" fill="url(#lYellow)" stroke="#000" stroke-width="1.15"/>
<rect x="110.5" y="634.50" width="20" height="19" fill="url(#lGreen)" stroke="#000" stroke-width="1.15"/>
<g font-family='"Liberation Sans", sans-serif'>
<text id="t0" style="white-space:pre" x="0.98" y="17.00" font-size="21.40" font-weight="normal" fill="#000" textLength="59.26" lengthAdjust="spacingAndGlyphs">Period</text>
<text id="t1" style="white-space:pre" x="68.08" y="17.00" font-size="21.40" font-weight="normal" fill="#000" textLength="19.90" lengthAdjust="spacingAndGlyphs">of</text>
<text id="t2" style="white-space:pre" x="93.56" y="17.00" font-size="21.40" font-weight="normal" fill="#000" textLength="70.25" lengthAdjust="spacingAndGlyphs">record:</text>
<text id="t3" style="white-space:pre" x="169.17" y="17.00" font-size="21.40" font-weight="normal" fill="#000" textLength="102.23" lengthAdjust="spacingAndGlyphs">1929-2012</text>
<text id="t4" style="white-space:pre" x="280.58" y="17.00" font-size="21.40" font-weight="normal" fill="#000" textLength="29.63" lengthAdjust="spacingAndGlyphs">(83</text>
<text id="t5" style="white-space:pre" x="317.81" y="17.00" font-size="21.40" font-weight="normal" fill="#000" textLength="58.62" lengthAdjust="spacingAndGlyphs">years)</text>
<text id="t6" style="white-space:pre" x="382.07" y="17.00" font-size="21.40" font-weight="normal" fill="#000" textLength="17.14" lengthAdjust="spacingAndGlyphs">at</text>
<text id="t7" style="white-space:pre" x="406.67" y="17.00" font-size="21.40" font-weight="normal" fill="#000" textLength="84.26" lengthAdjust="spacingAndGlyphs">Ganado,</text>
<text id="t8" style="white-space:pre" x="492.38" y="17.00" font-size="21.40" font-weight="normal" fill="#000" textLength="43.02" lengthAdjust="spacingAndGlyphs">New</text>
<text id="t9" style="white-space:pre" x="539.14" y="17.00" font-size="21.40" font-weight="normal" fill="#000" textLength="81.82" lengthAdjust="spacingAndGlyphs">Mexico,</text>
<text id="t10" style="white-space:pre" x="625.29" y="17.00" font-size="21.40" font-weight="normal" fill="#000" textLength="43.63" lengthAdjust="spacingAndGlyphs">near</text>
<text id="t11" style="white-space:pre" x="96.66" y="46.00" font-size="21.40" font-weight="normal" fill="#000" textLength="76.39" lengthAdjust="spacingAndGlyphs">Hubbell</text>
<text id="t12" style="white-space:pre" x="177.00" y="46.00" font-size="21.40" font-weight="normal" fill="#000" textLength="76.22" lengthAdjust="spacingAndGlyphs">Trading</text>
<text id="t13" style="white-space:pre" x="255.03" y="46.00" font-size="21.40" font-weight="normal" fill="#000" textLength="41.36" lengthAdjust="spacingAndGlyphs">Post</text>
<text id="t14" style="white-space:pre" x="302.13" y="46.00" font-size="21.40" font-weight="normal" fill="#000" textLength="40.42" lengthAdjust="spacingAndGlyphs">NHS</text>
<text id="t15" style="white-space:pre" x="350.27" y="46.00" font-size="21.40" font-weight="normal" fill="#000" textLength="67.75" lengthAdjust="spacingAndGlyphs">(HUTR)</text>
<text id="t16" style="white-space:pre" x="0.67" y="75.00" font-size="21.40" font-weight="normal" fill="#000" textLength="99.01" lengthAdjust="spacingAndGlyphs">Elevation:</text>
<text id="t17" style="white-space:pre" x="102.41" y="75.00" font-size="21.40" font-weight="normal" fill="#000" textLength="46.71" lengthAdjust="spacingAndGlyphs">1932</text>
<text id="t18" style="white-space:pre" x="156.01" y="75.00" font-size="21.40" font-weight="normal" fill="#000" textLength="17.90" lengthAdjust="spacingAndGlyphs">m</text>
<text id="t19" style="white-space:pre" x="195.59" y="75.00" font-size="21.40" font-weight="normal" fill="#000" textLength="46.93" lengthAdjust="spacingAndGlyphs">6339</text>
<text id="t20" style="white-space:pre" x="248.05" y="75.00" font-size="21.40" font-weight="normal" fill="#000" textLength="14.95" lengthAdjust="spacingAndGlyphs">ft</text>
<text id="t21" style="white-space:pre" x="1.29" y="104.00" font-size="21.40" font-weight="normal" fill="#000" textLength="77.62" lengthAdjust="spacingAndGlyphs">Average</text>
<text id="t22" style="white-space:pre" x="83.30" y="104.00" font-size="21.40" font-weight="normal" fill="#000" textLength="133.63" lengthAdjust="spacingAndGlyphs">Temperature:</text>
<text id="t23" style="white-space:pre" x="220.88" y="104.00" font-size="21.40" font-weight="normal" fill="#000" textLength="28.97" lengthAdjust="spacingAndGlyphs">9.3</text>
<text id="t24" style="white-space:pre" x="256.52" y="104.00" font-size="21.40" font-weight="normal" fill="#000" textLength="21.64" lengthAdjust="spacingAndGlyphs">°C</text>
<text id="t25" style="white-space:pre" x="298.46" y="104.00" font-size="21.40" font-weight="normal" fill="#000" textLength="41.28" lengthAdjust="spacingAndGlyphs">48.7</text>
<text id="t26" style="white-space:pre" x="344.94" y="104.00" font-size="21.40" font-weight="normal" fill="#000" textLength="19.50" lengthAdjust="spacingAndGlyphs">°F</text>
<text id="t27" style="white-space:pre" x="1.29" y="133.00" font-size="21.40" font-weight="normal" fill="#000" textLength="77.62" lengthAdjust="spacingAndGlyphs">Average</text>
<text id="t28" style="white-space:pre" x="83.36" y="133.00" font-size="21.40" font-weight="normal" fill="#000" textLength="134.07" lengthAdjust="spacingAndGlyphs">Precipitation:</text>
<text id="t29" style="white-space:pre" x="220.65" y="133.00" font-size="21.40" font-weight="normal" fill="#000" textLength="34.88" lengthAdjust="spacingAndGlyphs">269</text>
<text id="t30" style="white-space:pre" x="260.07" y="133.00" font-size="21.40" font-weight="normal" fill="#000" textLength="39.34" lengthAdjust="spacingAndGlyphs">mm</text>
<text id="t31" style="white-space:pre" x="321.72" y="133.00" font-size="21.40" font-weight="normal" fill="#000" textLength="40.40" lengthAdjust="spacingAndGlyphs">10.6</text>
<text id="t32" style="white-space:pre" x="368.39" y="133.00" font-size="21.40" font-weight="normal" fill="#000" textLength="18.78" lengthAdjust="spacingAndGlyphs">in</text>
<text id="t33" style="white-space:pre" x="0.30" y="165.50" font-size="21.00" font-weight="normal" fill="#000" textLength="18.43" lengthAdjust="spacingAndGlyphs">°F</text>
<text id="t34" style="white-space:pre" x="54.21" y="165.50" font-size="21.00" font-weight="normal" fill="#000" textLength="20.20" lengthAdjust="spacingAndGlyphs">°C</text>
<text id="t35" style="white-space:pre" x="722.10" y="49.00" font-size="21.00" font-weight="normal" fill="#000" textLength="17.93" lengthAdjust="spacingAndGlyphs">in</text>
<text id="t36" style="white-space:pre" x="772.77" y="49.00" font-size="21.00" font-weight="normal" fill="#000" textLength="36.79" lengthAdjust="spacingAndGlyphs">mm</text>
<text id="t37" style="white-space:pre" x="0.23" y="194.50" font-size="21.00" font-weight="normal" fill="#000" textLength="23.62" lengthAdjust="spacingAndGlyphs">86</text>
<text id="t38" style="white-space:pre" x="49.57" y="194.50" font-size="21.00" font-weight="normal" fill="#000" textLength="23.55" lengthAdjust="spacingAndGlyphs">30</text>
<text id="t39" style="white-space:pre" x="0.64" y="309.70" font-size="21.00" font-weight="normal" fill="#000" textLength="23.18" lengthAdjust="spacingAndGlyphs">68</text>
<text id="t40" style="white-space:pre" x="48.93" y="309.70" font-size="21.00" font-weight="normal" fill="#000" textLength="24.24" lengthAdjust="spacingAndGlyphs">20</text>
<text id="t41" style="white-space:pre" x="0.65" y="425.80" font-size="21.00" font-weight="normal" fill="#000" textLength="23.18" lengthAdjust="spacingAndGlyphs">50</text>
<text id="t42" style="white-space:pre" x="49.00" y="425.80" font-size="21.00" font-weight="normal" fill="#000" textLength="24.16" lengthAdjust="spacingAndGlyphs">10</text>
<text id="t43" style="white-space:pre" x="0.64" y="540.80" font-size="21.00" font-weight="normal" fill="#000" textLength="23.02" lengthAdjust="spacingAndGlyphs">32</text>
<text id="t44" style="white-space:pre" x="0.77" y="656.00" font-size="21.00" font-weight="normal" fill="#000" textLength="23.12" lengthAdjust="spacingAndGlyphs">14</text>
<text id="t45" style="white-space:pre" x="48.86" y="656.00" font-size="21.00" font-weight="normal" fill="#000" textLength="30.55" lengthAdjust="spacingAndGlyphs">-10</text>
<text id="t46" style="white-space:pre" x="717.35" y="77.70" font-size="21.00" font-weight="normal" fill="#000" textLength="29.32" lengthAdjust="spacingAndGlyphs">3.2</text>
<text id="t47" style="white-space:pre" x="772.59" y="77.70" font-size="21.00" font-weight="normal" fill="#000" textLength="22.46" lengthAdjust="spacingAndGlyphs">80</text>
<text id="t48" style="white-space:pre" x="716.96" y="193.00" font-size="21.00" font-weight="normal" fill="#000" textLength="29.77" lengthAdjust="spacingAndGlyphs">2.4</text>
<text id="t49" style="white-space:pre" x="771.95" y="193.00" font-size="21.00" font-weight="normal" fill="#000" textLength="23.05" lengthAdjust="spacingAndGlyphs">60</text>
<text id="t50" style="white-space:pre" x="717.05" y="308.50" font-size="21.00" font-weight="normal" fill="#000" textLength="29.77" lengthAdjust="spacingAndGlyphs">1.6</text>
<text id="t51" style="white-space:pre" x="771.77" y="308.50" font-size="21.00" font-weight="normal" fill="#000" textLength="23.25" lengthAdjust="spacingAndGlyphs">40</text>
<text id="t52" style="white-space:pre" x="716.72" y="424.00" font-size="21.00" font-weight="normal" fill="#000" textLength="29.54" lengthAdjust="spacingAndGlyphs">0.8</text>
<text id="t53" style="white-space:pre" x="772.59" y="424.00" font-size="21.00" font-weight="normal" fill="#000" textLength="22.46" lengthAdjust="spacingAndGlyphs">20</text>
<text id="t54" style="white-space:pre" x="782.69" y="538.50" font-size="21.00" font-weight="normal" fill="#000" textLength="11.92" lengthAdjust="spacingAndGlyphs">0</text>
<text id="t68" style="white-space:pre" x="133.79" y="605.00" font-size="17.00" font-weight="normal" fill="#000" textLength="48.75" lengthAdjust="spacingAndGlyphs">Freeze</text>
<text id="t69" style="white-space:pre" x="183.98" y="605.00" font-size="17.00" font-weight="normal" fill="#000" textLength="39.54" lengthAdjust="spacingAndGlyphs">likely</text>
<text id="t70" style="white-space:pre" x="230.60" y="605.00" font-size="17.00" font-weight="normal" fill="#000" textLength="65.21" lengthAdjust="spacingAndGlyphs">(average</text>
<text id="t71" style="white-space:pre" x="300.59" y="605.00" font-size="17.00" font-weight="normal" fill="#000" textLength="34.21" lengthAdjust="spacingAndGlyphs">daily</text>
<text id="t72" style="white-space:pre" x="339.31" y="605.00" font-size="17.00" font-weight="normal" fill="#000" textLength="28.36" lengthAdjust="spacingAndGlyphs">min</text>
<text id="t73" style="white-space:pre" x="373.17" y="605.00" font-size="17.00" font-weight="normal" fill="#000" textLength="35.83" lengthAdjust="spacingAndGlyphs">temp</text>
<text id="t74" style="white-space:pre" x="415.00" y="605.00" font-size="17.00" font-weight="normal" fill="#000" textLength="8.00" lengthAdjust="spacingAndGlyphs">&lt;</text>
<text id="t75" style="white-space:pre" x="429.46" y="605.00" font-size="17.00" font-weight="normal" fill="#000" textLength="31.86" lengthAdjust="spacingAndGlyphs">0°C)</text>
<text id="t76" style="white-space:pre" x="133.76" y="626.50" font-size="17.00" font-weight="normal" fill="#000" textLength="50.25" lengthAdjust="spacingAndGlyphs">Freeze</text>
<text id="t77" style="white-space:pre" x="187.69" y="626.50" font-size="17.00" font-weight="normal" fill="#000" textLength="61.31" lengthAdjust="spacingAndGlyphs">possible</text>
<text id="t78" style="white-space:pre" x="133.00" y="649.00" font-size="17.00" font-weight="normal" fill="#000" textLength="61.50" lengthAdjust="spacingAndGlyphs">Average</text>
<text id="t79" style="white-space:pre" x="199.26" y="649.00" font-size="17.00" font-weight="normal" fill="#000" textLength="34.21" lengthAdjust="spacingAndGlyphs">frost</text>
<text id="t80" style="white-space:pre" x="238.53" y="649.00" font-size="17.00" font-weight="normal" fill="#000" textLength="30.83" lengthAdjust="spacingAndGlyphs">free</text>
<text id="t81" style="white-space:pre" x="272.44" y="649.00" font-size="17.00" font-weight="normal" fill="#000" textLength="50.08" lengthAdjust="spacingAndGlyphs">period</text>
<text id="t82" style="white-space:pre" x="526.08" y="601.40" font-size="15.00" font-weight="normal" fill="#000" textLength="46.92" lengthAdjust="spacingAndGlyphs">Percent</text>
<text id="t83" style="white-space:pre" x="578.59" y="601.40" font-size="15.00" font-weight="normal" fill="#000" textLength="52.34" lengthAdjust="spacingAndGlyphs">possible</text>
<text id="t84" style="white-space:pre" x="636.38" y="601.40" font-size="15.00" font-weight="normal" fill="#000" textLength="20.62" lengthAdjust="spacingAndGlyphs">obs</text>
<text id="t85" style="white-space:pre" x="662.55" y="601.40" font-size="15.00" font-weight="normal" fill="#000" textLength="16.85" lengthAdjust="spacingAndGlyphs">for</text>
<text id="t86" style="white-space:pre" x="683.77" y="601.40" font-size="15.00" font-weight="normal" fill="#000" textLength="40.65" lengthAdjust="spacingAndGlyphs">period</text>
<text id="t87" style="white-space:pre" x="730.05" y="601.40" font-size="15.00" font-weight="normal" fill="#000" textLength="11.83" lengthAdjust="spacingAndGlyphs">of</text>
<text id="t88" style="white-space:pre" x="747.19" y="601.40" font-size="15.00" font-weight="normal" fill="#000" textLength="45.73" lengthAdjust="spacingAndGlyphs">record:</text>
<text id="t89" style="white-space:pre" x="542.90" y="619.50" font-size="15.00" font-weight="normal" fill="#000" textLength="32.47" lengthAdjust="spacingAndGlyphs">Max.</text>
<text id="t90" style="white-space:pre" x="579.28" y="619.50" font-size="15.00" font-weight="normal" fill="#000" textLength="42.47" lengthAdjust="spacingAndGlyphs">Temp.:</text>
<text id="t91" style="white-space:pre" x="627.17" y="619.50" font-size="15.00" font-weight="normal" fill="#000" textLength="37.44" lengthAdjust="spacingAndGlyphs">91.1%</text>
<text id="t92" style="white-space:pre" x="669.56" y="619.50" font-size="15.00" font-weight="normal" fill="#000" textLength="29.53" lengthAdjust="spacingAndGlyphs">Min.</text>
<text id="t93" style="white-space:pre" x="704.28" y="619.50" font-size="15.00" font-weight="normal" fill="#000" textLength="42.47" lengthAdjust="spacingAndGlyphs">Temp.:</text>
<text id="t94" style="white-space:pre" x="750.89" y="619.50" font-size="15.00" font-weight="normal" fill="#000" textLength="38.11" lengthAdjust="spacingAndGlyphs">91.3%</text>
<text id="t95" style="white-space:pre" x="544.08" y="638.40" font-size="15.00" font-weight="normal" fill="#000" textLength="85.34" lengthAdjust="spacingAndGlyphs">Precipitation:</text>
<text id="t96" style="white-space:pre" x="634.06" y="638.40" font-size="15.00" font-weight="normal" fill="#000" textLength="39.34" lengthAdjust="spacingAndGlyphs">96.2%</text>
<text id="t97" style="white-space:pre" x="106.20" y="239.80" font-size="14.50" font-weight="bold" fill="#4F6228" textLength="100.40" lengthAdjust="spacingAndGlyphs">Mean Monthly</text>
<text id="t98" style="white-space:pre" x="112.60" y="259.00" font-size="14.50" font-weight="bold" fill="#4F6228" textLength="86.50" lengthAdjust="spacingAndGlyphs">Temperature</text>
<text id="t99" style="white-space:pre" x="598.98" y="239.50" font-size="14.50" font-weight="bold" fill="#1F3A60" textLength="100.62" lengthAdjust="spacingAndGlyphs">Mean Monthly</text>
<text id="t100" style="white-space:pre" x="604.79" y="258.80" font-size="14.50" font-weight="bold" fill="#1F3A60" textLength="89.01" lengthAdjust="spacingAndGlyphs">Precipitation</text>
</g>
</svg>
</body></html>
